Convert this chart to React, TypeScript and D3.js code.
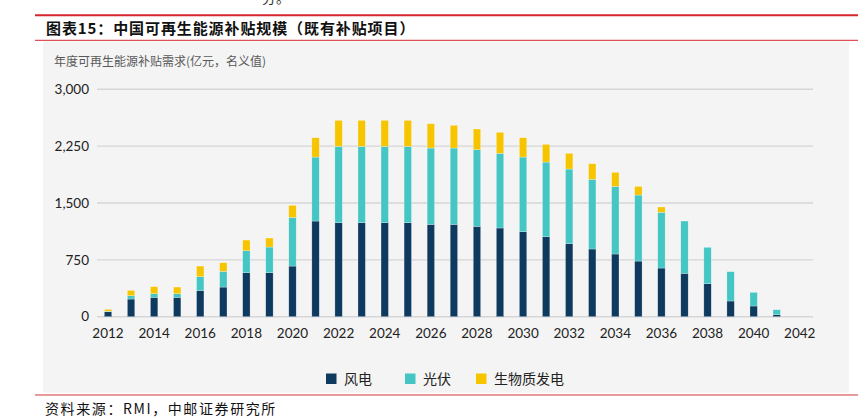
import * as d3 from "d3";

// 年份 / 数据（亿元）
const years = d3.range(2012, 2043);
const barYears = d3.range(2012, 2042);
const wind = [65, 233, 255, 255, 347, 391, 580, 580, 668, 1262, 1240, 1240, 1240, 1240, 1218, 1218, 1192, 1170, 1121, 1055, 963, 893, 827, 734, 642, 572, 435, 207, 141, 26];
const solar = [8, 44, 48, 48, 181, 207, 291, 339, 642, 844, 1007, 1007, 1007, 1007, 1007, 1007, 1011, 985, 985, 985, 985, 919, 892, 871, 734, 690, 480, 387, 180, 66];
const biomass = [24, 70, 93, 88, 140, 114, 140, 119, 159, 255, 343, 343, 343, 343, 321, 299, 273, 277, 255, 233, 207, 206, 185, 114, 71, 0, 0, 0, 0, 0];
const yTicks = [0, 750, 1500, 2250, 3000];
const seriesNames = ["风电", "光伏", "生物质发电"];
const colors = ["#0f3a5f", "#45c6c4", "#f7c400"];

const W = 868;
const H = 418;

export default function App() {
  const x = d3
    .scaleBand<number>()
    .domain(years)
    .range([92.8, 815])
    .paddingInner(0.68)
    .paddingOuter(0.5);

  const y = d3.scaleLinear().domain([0, 3000]).range([316.7, 89.3]);

  const rows = barYears.map((yr, i) => ({ year: yr, wind: wind[i], solar: solar[i], biomass: biomass[i] }));
  const stacked = d3.stack<any>().keys(["wind", "solar", "biomass"])(rows);

  const numFont = "Lato, 'Noto Sans', sans-serif";
  const cjkFont = "'Noto Sans CJK SC', sans-serif";

  const legendX = [326, 405, 476];

  return (
    <svg width={W} height={H} style={{ position: "absolute", left: 0, top: 0 }}>
      <rect width={W} height={H} fill="#ffffff" />
      <text x={262} y={3} fontSize={14} fontFamily={cjkFont} fill="#333">分。</text>

      {/* 标题栏 */}
      <line x1={35} x2={858} y1={15.3} y2={15.3} stroke="#d7262e" strokeWidth={2} />
      <text x={46} y={34} fontSize={15} fontWeight="bold" letterSpacing={0.9} fontFamily={cjkFont} fill="#111">
        图表15：中国可再生能源补贴规模（既有补贴项目）
      </text>
      <line x1={35} x2={858} y1={40.3} y2={40.3} stroke="#d7262e" strokeWidth={1} />

      {/* 图区背景 */}
      <rect x={43} y={41.5} width={806} height={351} fill="#f4f4f4" />

      <text x={54} y={66} fontSize={12} fontFamily={cjkFont} fill="#595959">
        年度可再生能源补贴需求(亿元，名义值)
      </text>

      {/* 网格线与 y 轴 */}
      {yTicks.map((t) => (
        <g key={t}>
          <line x1={97} x2={813} y1={y(t)} y2={y(t)} stroke="#d6d6d6" strokeWidth={1.4} />
          <text x={89} y={y(t)} dy="0.35em" textAnchor="end" fontSize={13.5} fontFamily={numFont} fill="#222">
            {d3.format(",")(t)}
          </text>
        </g>
      ))}

      {/* 堆叠柱 */}
      {stacked.map((layer, li) => (
        <g key={layer.key} fill={colors[li]}>
          {layer.map((d) =>
            d[1] - d[0] > 0 ? (
              <rect
                key={d.data.year}
                x={x(d.data.year)}
                width={x.bandwidth()}
                y={y(d[1])}
                height={y(d[0]) - y(d[1])}
                stroke="#ffffff"
                strokeOpacity={0.5}
                strokeWidth={0.5}
              />
            ) : null
          )}
        </g>
      ))}

      {/* x 轴标签 */}
      {years
        .filter((yr) => yr % 2 === 0)
        .map((yr) => (
          <text
            key={yr}
            x={(x(yr) as number) + x.bandwidth() / 2}
            y={338}
            textAnchor="middle"
            fontSize={13.5}
            fontFamily={numFont}
            fill="#222"
          >
            {yr}
          </text>
        ))}

      {/* 图例 */}
      {seriesNames.map((name, i) => (
        <g key={name} transform={`translate(${legendX[i]},373.5)`}>
          <rect width={10.5} height={10.5} fill={colors[i]} />
          <text x={18} y={5.5} dy="0.36em" fontSize={14} fontFamily={cjkFont} fill="#222">
            {name}
          </text>
        </g>
      ))}

      {/* 底部 */}
      <line x1={35} x2={858} y1={395} y2={395} stroke="#e07a7a" strokeWidth={1.5} />
      <text x={45} y={414} fontSize={14} letterSpacing={1.6} fontFamily={cjkFont} fill="#111">
        资料来源：RMI，中邮证券研究所
      </text>
    </svg>
  );
}
